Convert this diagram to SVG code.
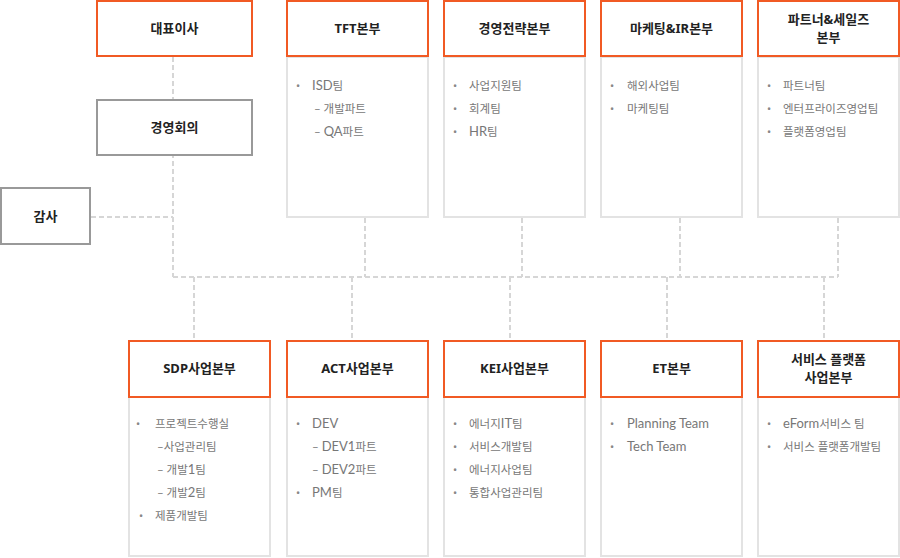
<svg xmlns="http://www.w3.org/2000/svg" width="900" height="558" viewBox="0 0 900 558">
<style>
.hd{fill:#fff;stroke:#f15a24;stroke-width:2}
.gb{fill:#fff;stroke:#999;stroke-width:2}
.bd{fill:#fff;stroke:#e3e3e3;stroke-width:2}
.ln{fill:none;stroke:#d6d6d6;stroke-width:2;stroke-dasharray:5 3}
.t{font-family:"Noto Sans","Noto Sans CJK KR",sans-serif;font-size:13px;font-weight:bold;fill:#222;text-anchor:middle}
.b{font-family:"Lato","Noto Sans CJK KR",sans-serif;font-size:11.5px;fill:#777}
.l{font-size:13px}
.u{font-family:"Noto Sans","Noto Sans CJK KR",sans-serif;font-size:11px;fill:#888}
</style>
<rect width="900" height="558" fill="#fff"/>
<g id="connectors">
<path class="ln" d="M173 57V277M91 217H173M173 277H838"/>
<path class="ln" d="M365 218V277M522 218V277M680 218V277M838 218V277"/>
<path class="ln" d="M194 277V340M352 277V340M510 277V340M667 277V340M824 277V340"/>
</g>
<g id="ceo"><rect class="hd" x="97" y="1" width="155" height="55"/><text class="t" x="174.5" y="33">대표이사</text></g>
<g id="meeting"><rect class="gb" x="97" y="100" width="155" height="55"/><text class="t" x="174.5" y="132">경영회의</text></g>
<g id="audit"><rect class="gb" x="1" y="188" width="89" height="56"/><text class="t" x="45.5" y="221">감사</text></g>

<g id="tft">
<rect class="bd" x="287" y="57" width="141" height="160"/>
<rect class="hd" x="287" y="1" width="141" height="55"/>
<text class="t" x="357.5" y="33">TFT본부</text>
<text class="u" x="296" y="90">•</text><text class="b" x="312" y="90"><tspan class="l">ISD</tspan>팀</text>
<text class="b" x="314" y="113">– 개발파트</text>
<text class="b" x="314" y="136">– <tspan class="l">QA</tspan>파트</text>
</g>
<g id="strategy">
<rect class="bd" x="444" y="57" width="141" height="160"/>
<rect class="hd" x="444" y="1" width="141" height="55"/>
<text class="t" x="514.5" y="33">경영전략본부</text>
<text class="u" x="453" y="90">•</text><text class="b" x="469" y="90">사업지원팀</text>
<text class="u" x="453" y="113">•</text><text class="b" x="469" y="113">회계팀</text>
<text class="u" x="453" y="136">•</text><text class="b" x="469" y="136"><tspan class="l">HR</tspan>팀</text>
</g>
<g id="marketing">
<rect class="bd" x="601" y="57" width="141" height="160"/>
<rect class="hd" x="601" y="1" width="141" height="55"/>
<text class="t" x="671.5" y="33">마케팅&amp;IR본부</text>
<text class="u" x="610" y="90">•</text><text class="b" x="627" y="90">해외사업팀</text>
<text class="u" x="610" y="113">•</text><text class="b" x="627" y="113">마케팅팀</text>
</g>
<g id="partner">
<rect class="bd" x="758" y="57" width="141" height="160"/>
<rect class="hd" x="758" y="1" width="141" height="55"/>
<text class="t" x="828.5" y="24">파트너&amp;세일즈</text>
<text class="t" x="828.5" y="42">본부</text>
<text class="u" x="767" y="90">•</text><text class="b" x="783" y="90">파트너팀</text>
<text class="u" x="767" y="113">•</text><text class="b" x="783" y="113">엔터프라이즈영업팀</text>
<text class="u" x="767" y="136">•</text><text class="b" x="783" y="136">플랫폼영업팀</text>
</g>

<g id="sdp">
<rect class="bd" x="129" y="397" width="141" height="159"/>
<rect class="hd" x="129" y="341" width="141" height="56"/>
<text class="t" x="199.5" y="373">SDP사업본부</text>
<text class="u" x="136" y="428">•</text><text class="b" x="155" y="428">프로젝트수행실</text>
<text class="b" x="157" y="451">–사업관리팀</text>
<text class="b" x="157" y="474">– 개발<tspan class="l">1</tspan>팀</text>
<text class="b" x="157" y="497">– 개발<tspan class="l">2</tspan>팀</text>
<text class="u" x="139" y="520">•</text><text class="b" x="155" y="520">제품개발팀</text>
</g>
<g id="act">
<rect class="bd" x="287" y="397" width="141" height="159"/>
<rect class="hd" x="287" y="341" width="141" height="56"/>
<text class="t" x="357.5" y="373">ACT사업본부</text>
<text class="u" x="296" y="428">•</text><text class="b" x="312" y="428"><tspan class="l">DEV</tspan></text>
<text class="b" x="312" y="451">– <tspan class="l">DEV1</tspan>파트</text>
<text class="b" x="312" y="474">– <tspan class="l">DEV2</tspan>파트</text>
<text class="u" x="296" y="497">•</text><text class="b" x="312" y="497"><tspan class="l">PM</tspan>팀</text>
</g>
<g id="kei">
<rect class="bd" x="444" y="397" width="141" height="159"/>
<rect class="hd" x="444" y="341" width="141" height="56"/>
<text class="t" x="514.5" y="373">KEI사업본부</text>
<text class="u" x="453" y="428">•</text><text class="b" x="469" y="428">에너지<tspan class="l">IT</tspan>팀</text>
<text class="u" x="453" y="451">•</text><text class="b" x="469" y="451">서비스개발팀</text>
<text class="u" x="453" y="474">•</text><text class="b" x="469" y="474">에너지사업팀</text>
<text class="u" x="453" y="497">•</text><text class="b" x="469" y="497">통합사업관리팀</text>
</g>
<g id="et">
<rect class="bd" x="601" y="397" width="141" height="159"/>
<rect class="hd" x="601" y="341" width="141" height="56"/>
<text class="t" x="671.5" y="373">ET본부</text>
<text class="u" x="610" y="428">•</text><text class="b" x="627" y="428"><tspan class="l">Planning Team</tspan></text>
<text class="u" x="610" y="451">•</text><text class="b" x="627" y="451"><tspan class="l">Tech Team</tspan></text>
</g>
<g id="service">
<rect class="bd" x="758" y="397" width="141" height="159"/>
<rect class="hd" x="758" y="341" width="141" height="56"/>
<text class="t" x="828.5" y="364">서비스 플랫폼</text>
<text class="t" x="828.5" y="382">사업본부</text>
<text class="u" x="767" y="428">•</text><text class="b" x="783" y="428"><tspan class="l">eForm</tspan>서비스 팀</text>
<text class="u" x="767" y="451">•</text><text class="b" x="783" y="451">서비스 플랫폼개발팀</text>
</g>
</svg>
